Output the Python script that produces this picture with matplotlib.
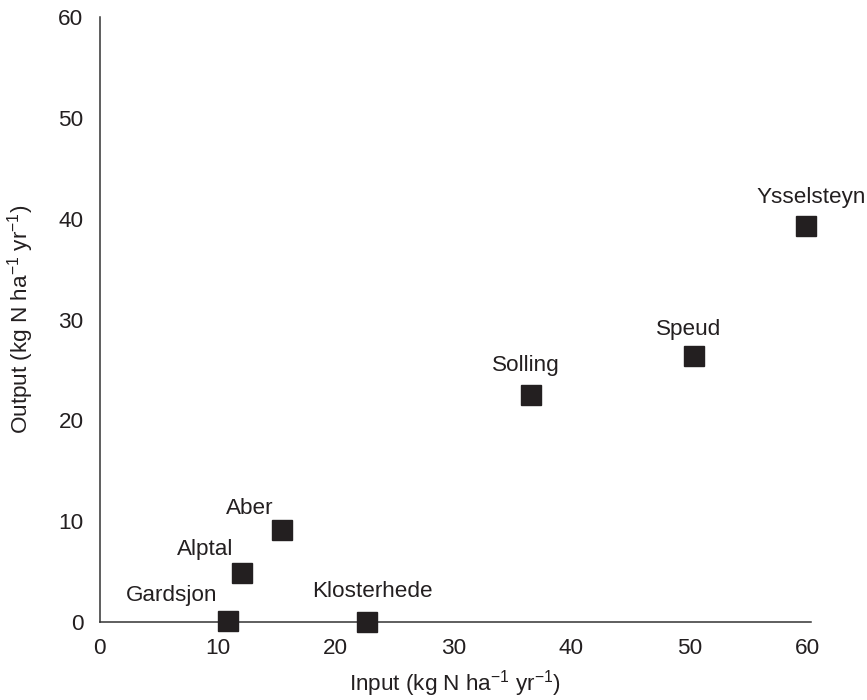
import matplotlib
matplotlib.use('Agg')
import matplotlib.pyplot as plt

# --- Data ---
sites = ['Ysselsteyn', 'Speud', 'Solling', 'Aber', 'Alptal', 'Gardsjon', 'Klosterhede']
n_input = [59.9, 50.4, 36.6, 15.5, 12.1, 10.9, 22.7]
n_output = [39.3, 26.4, 22.5, 9.1, 4.9, 0.1, 0.0]

# label offsets from marker centre (pixels; +y up), text anchored at baseline
label_offsets = {
    'Ysselsteyn': (5, 23),
    'Speud': (-6, 21),
    'Solling': (-6, 24),
    'Aber': (-33, 16),
    'Alptal': (-37, 18),
    'Gardsjon': (-56, 20),
    'Klosterhede': (5, 25),
}

plt.rcParams['font.family'] = ['Liberation Sans', 'DejaVu Sans']
plt.rcParams['mathtext.fontset'] = 'custom'
plt.rcParams['mathtext.rm'] = 'Liberation Sans'
plt.rcParams['mathtext.it'] = 'Liberation Sans'
plt.rcParams['mathtext.default'] = 'regular'

text_color = '#231f20'
axis_color = '#333333'
fs = 16.2

fig = plt.figure(figsize=(8.67, 7.0), dpi=100, facecolor='white')
ax = fig.add_axes([99.5 / 867, 1 - 622 / 700, (811 - 99.5) / 867, (622 - 17) / 700])

ax.plot(n_input, n_output, linestyle='none', marker='s', markersize=14,
        color=text_color, markeredgecolor=text_color, clip_on=False, zorder=3)

px2pt = 72 / 100
for name, x, y in zip(sites, n_input, n_output):
    dx, dy = label_offsets[name]
    ax.annotate(name, (x, y), xytext=(dx * px2pt, dy * px2pt),
                textcoords='offset points', ha='center', va='baseline',
                fontsize=fs, color=text_color)

ax.set_xlim(0, 60.3)
ax.set_ylim(0, 60)
ax.set_xticks(range(0, 61, 10))
ax.set_yticks(range(0, 61, 10))
ax.tick_params(length=0, labelsize=fs, labelcolor=text_color)
ax.tick_params(axis='y', pad=11.5)
ax.tick_params(axis='x', pad=11.5)

for s in ['top', 'right']:
    ax.spines[s].set_visible(False)
for s in ['left', 'bottom']:
    ax.spines[s].set_color(axis_color)
    ax.spines[s].set_linewidth(1.1)

ax.set_xlabel(r'Input (kg N ha$^{-1}$ yr$^{-1}$)', fontsize=fs, color=text_color, labelpad=6.5)
ax.set_ylabel(r'Output (kg N ha$^{-1}$ yr$^{-1}$)', fontsize=fs, color=text_color, labelpad=16)

fig.savefig('out.png', dpi=100, facecolor='white')
plt.close(fig)
